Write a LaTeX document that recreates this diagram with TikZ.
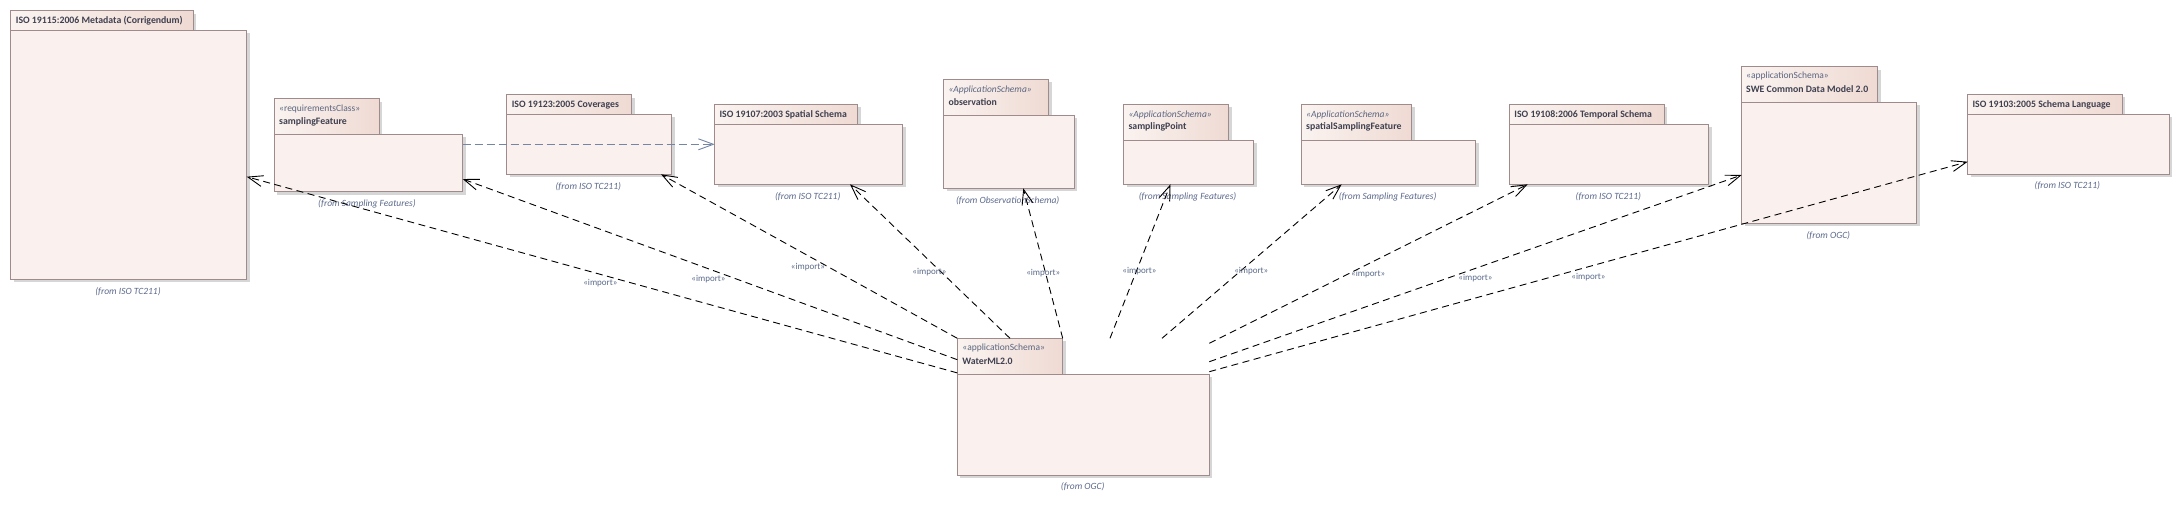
\documentclass[tikz,border=0pt]{standalone}
\usepackage{fontspec}
\setmainfont{Carlito}
\usetikzlibrary{arrows.meta,shadows,calc}
\definecolor{pkgfill}{HTML}{FAF1EE}
\definecolor{tabL}{HTML}{FAF3F0}
\definecolor{tabR}{HTML}{EFDAD3}
\definecolor{pkgborder}{HTML}{9F8B8B}
\definecolor{ttlc}{HTML}{3F4050}
\definecolor{stc}{HTML}{5C6680}
\definecolor{fromc}{HTML}{5C6A8C}
\definecolor{impc}{HTML}{5A6A8A}
\definecolor{depc}{HTML}{7585A5}
\begin{document}
\begin{tikzpicture}[x=1pt,y=-1pt,
  pkgshadow/.style={drop shadow={shadow xshift=3pt,shadow yshift=-3pt,fill=black!16,opacity=1}},
  pkgbody/.style={draw=pkgborder,fill=pkgfill,line width=0.8pt,inner sep=0pt,outer sep=0pt,anchor=north west,pkgshadow},
  pkgtab/.style={draw=pkgborder,left color=tabL,right color=tabR,line width=0.8pt,inner sep=0pt,outer sep=0pt,anchor=north west,pkgshadow},
  ttl/.style={anchor=west,inner sep=0pt,text height=8.3pt,text depth=2pt,text=ttlc,font=\fontsize{9.8}{11}\selectfont\bfseries},
  stereo/.style={anchor=west,inner sep=0pt,text height=8.3pt,text depth=2pt,text=stc,font=\fontsize{9.5}{11}\selectfont},
  stereoit/.style={stereo,font=\fontsize{9.5}{11}\selectfont\itshape},
  fromlbl/.style={anchor=center,inner sep=0pt,text height=8.3pt,text depth=2pt,text=fromc,font=\fontsize{9.5}{11}\selectfont\itshape},
  implbl/.style={anchor=center,inner sep=0pt,text height=8pt,text depth=2pt,text=impc,font=\fontsize{9}{11}\selectfont},
  imp/.style={draw=black,line width=0.9pt,dash pattern=on 7pt off 4.5pt,-{Straight Barb[length=15pt,width=11pt]}},
  dep/.style={draw=depc,line width=0.9pt,dash pattern=on 8pt off 4pt,-{Straight Barb[length=15pt,width=11pt]}}
]
\useasboundingbox[fill=white] (0,0) rectangle (2179,504);

% ISO 19115
\node[pkgtab,minimum width=182.6pt,minimum height=19.6pt] (meta-tab) at (10.7,10.7) {};
\node[pkgbody,minimum width=236pt,minimum height=249pt] (meta) at (10.7,30.3) {};
\node[ttl] (meta-name) at (15.7,20) {ISO 19115:2006 Metadata (Corrigendum)};
\node[fromlbl] (meta-from) at (128,291) {(from ISO TC211)};

% samplingFeature
\node[pkgtab,minimum width=105pt,minimum height=35.6pt] (sampF-tab) at (274.3,98.7) {};
\node[pkgbody,minimum width=188.4pt,minimum height=57.4pt] (sampF) at (274.3,134.3) {};
\node[stereo] (sampF-st) at (279,108) {«requirementsClass»};
\node[ttl] (sampF-name) at (279,121) {samplingFeature};
\node[fromlbl] (sampF-from) at (367,203) {(from Sampling Features)};

% Coverages
\node[pkgtab,minimum width=125pt,minimum height=19.6pt] (cov-tab) at (506.7,94.7) {};
\node[pkgbody,minimum width=165pt,minimum height=60pt] (cov) at (506.7,114.3) {};
\node[ttl] (cov-name) at (511.6,104) {ISO 19123:2005 Coverages};
\node[fromlbl] (cov-from) at (588.3,186) {(from ISO TC211)};

% Spatial
\node[pkgtab,minimum width=143pt,minimum height=20pt] (spat-tab) at (714.7,104.3) {};
\node[pkgbody,minimum width=188pt,minimum height=60pt] (spat) at (714.7,124.3) {};
\node[ttl] (spat-name) at (719.4,114) {ISO 19107:2003 Spatial Schema};
\node[fromlbl] (spat-from) at (807.7,196) {(from ISO TC211)};

% observation
\node[pkgtab,minimum width=105pt,minimum height=36pt] (obs-tab) at (943.7,79.3) {};
\node[pkgbody,minimum width=130.6pt,minimum height=73pt] (obs) at (943.7,115.3) {};
\node[stereoit] (obs-st) at (948.3,89.3) {«ApplicationSchema»};
\node[ttl] (obs-name) at (948.3,102) {observation};
\node[fromlbl] (obs-from) at (1007.7,200) {(from ObservationSchema)};

% samplingPoint
\node[pkgtab,minimum width=105pt,minimum height=36pt] (sp-tab) at (1123.7,104.3) {};
\node[pkgbody,minimum width=130pt,minimum height=44pt] (sp) at (1123.7,140.3) {};
\node[stereoit] (sp-st) at (1128.3,114) {«ApplicationSchema»};
\node[ttl] (sp-name) at (1128.3,126.7) {samplingPoint};
\node[fromlbl] (sp-from) at (1187.6,196) {(from Sampling Features)};

% spatialSamplingFeature
\node[pkgtab,minimum width=110.4pt,minimum height=36pt] (ssf-tab) at (1301.3,104.3) {};
\node[pkgbody,minimum width=174.4pt,minimum height=44pt] (ssf) at (1301.3,140.3) {};
\node[stereoit] (ssf-st) at (1306,114) {«ApplicationSchema»};
\node[ttl] (ssf-name) at (1306,126.7) {spatialSamplingFeature};
\node[fromlbl] (ssf-from) at (1387.7,196) {(from Sampling Features)};

% Temporal
\node[pkgtab,minimum width=155pt,minimum height=20pt] (temp-tab) at (1509.3,104.3) {};
\node[pkgbody,minimum width=199.4pt,minimum height=60pt] (temp) at (1509.3,124.3) {};
\node[ttl] (temp-name) at (1514.2,114) {ISO 19108:2006 Temporal Schema};
\node[fromlbl] (temp-from) at (1608.3,196) {(from ISO TC211)};

% SWE Common
\node[pkgtab,minimum width=136pt,minimum height=35.6pt] (swe-tab) at (1741.7,66.7) {};
\node[pkgbody,minimum width=175pt,minimum height=121pt] (swe) at (1741.7,102.3) {};
\node[stereo] (swe-st) at (1746,75.7) {«applicationSchema»};
\node[ttl] (swe-name) at (1746,89) {SWE Common Data Model 2.0};
\node[fromlbl] (swe-from) at (1828.3,235) {(from OGC)};

% ISO 19103
\node[pkgtab,minimum width=154.6pt,minimum height=20pt] (lang-tab) at (1967.7,94.3) {};
\node[pkgbody,minimum width=201.6pt,minimum height=60pt] (lang) at (1967.7,114.3) {};
\node[ttl] (lang-name) at (1972.3,103.9) {ISO 19103:2005 Schema Language};
\node[fromlbl] (lang-from) at (2067.3,185.7) {(from ISO TC211)};

% WaterML2.0
\node[pkgtab,minimum width=105.4pt,minimum height=35.7pt] (wml-tab) at (957.3,338.3) {};
\node[pkgbody,minimum width=252pt,minimum height=101pt] (wml) at (957.3,374) {};
\node[stereo] (wml-st) at (962.2,347.7) {«applicationSchema»};
\node[ttl] (wml-name) at (962.2,361.7) {WaterML2.0};
\node[fromlbl] (wml-from) at (1082.7,486.7) {(from OGC)};

% dependency samplingFeature -> Spatial
\draw[dep] ($(sampF.north east)+(0,10)$) -- ($(spat.north west)+(0,20)$);

% imports
\draw[imp] ($(wml.north west)+(0,-1.1)$) -- ($(meta.north east)+(0,146.4)$);
\draw[imp] ($(wml.north west)+(0,-14.3)$) -- ($(sampF.north east)+(0,44.7)$);
\draw[imp] (wml-tab.north west) -- ($(cov.south east)+(-10.7,0)$);
\draw[imp] ($(wml-tab.north west)+(52.7,0)$) -- ($(spat.south east)+(-52.7,0)$);
\draw[imp] (wml-tab.north east) -- ($(obs.south west)+(79.6,0)$);
\draw[imp] ($(wml-tab.north west)+(152.7,0)$) -- ($(sp.south west)+(46.8,0)$);
\draw[imp] ($(wml-tab.north west)+(204.7,0)$) -- ($(ssf.south west)+(40.4,0)$);
\draw[imp] ($(wml.north east)+(0,-30.7)$) -- ($(temp.south west)+(18.4,0)$);
\draw[imp] ($(wml.north east)+(0,-12.3)$) -- ($(swe.north west)+(0,72.7)$);
\draw[imp] ($(wml.north east)+(0,-2.3)$) -- ($(lang.north west)+(0,47.4)$);

% import labels
\node[implbl] (imp1) at (600.4,282.7) {«import»};
\node[implbl] (imp2) at (708.5,278.3) {«import»};
\node[implbl] (imp3) at (808,266) {«import»};
\node[implbl] (imp4) at (929.5,271) {«import»};
\node[implbl] (imp5) at (1043.3,272.7) {«import»};
\node[implbl] (imp6) at (1139.5,270.7) {«import»};
\node[implbl] (imp7) at (1251.3,270.7) {«import»};
\node[implbl] (imp8) at (1368.2,273.3) {«import»};
\node[implbl] (imp9) at (1475.5,277.3) {«import»};
\node[implbl] (imp10) at (1588.5,276) {«import»};
\end{tikzpicture}
\end{document}
